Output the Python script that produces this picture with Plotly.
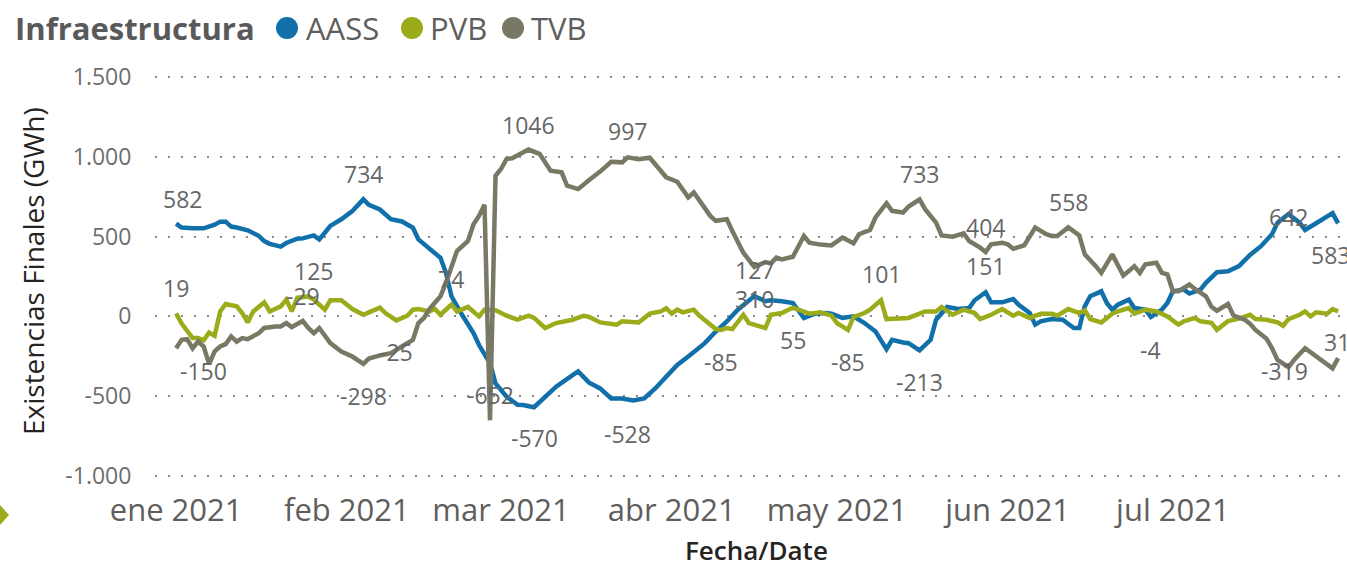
import pandas as pd
import plotly.graph_objects as go

# ---------------- data (day index: 0 = 1 Jan 2021) ----------------
INICIO = "2021-01-01"

aass_dias = [0, 1, 3, 5, 7, 8, 9, 10, 11, 13, 15, 16, 17, 19, 20, 22, 23, 25, 26, 28,
             30, 32, 34, 35, 37, 39, 41, 43, 44, 46, 48, 49, 50, 52, 54, 55, 57, 58, 60, 62,
             63, 65, 67, 69, 72, 73, 75, 77, 79, 81, 83, 85, 87, 89, 91, 93, 96, 98, 100, 102,
             104, 105, 107, 108, 110, 112, 114, 116, 118, 119, 121, 123, 125, 127, 129, 130, 132, 133, 135, 137,
             138, 140, 142, 144, 145, 147, 148, 150, 152, 153, 155, 156, 157, 159, 161, 163, 164, 165, 166, 168,
             169, 170, 171, 173, 174, 176, 177, 179, 180, 181, 183, 184, 186, 187, 189, 191, 193, 195, 197, 199,
             200, 202, 204, 205, 207, 209, 210, 211]
aass_gwh = [582, 557, 552, 552, 575, 594, 594, 563, 557, 540, 505, 472, 455, 437, 460, 487, 489, 508, 483, 567,
            609, 661, 734, 700, 670, 609, 595, 556, 483, 425, 367, 273, 126, 5, -105, -180, -294, -420, -504, -555,
            -556, -570, -504, -441, -368, -345, -416, -452, -515, -515, -528, -515, -452, -378, -305, -252, -168, -95, -32, 42,
            105, 127, 95, 101, 95, 84, -10, 17, 21, 17, -10, 0, -42, -95, -206, -147, -164, -168, -213, -147,
            -21, 59, 46, 52, 101, 151, 88, 88, 109, 73, 21, -52, -31, -17, -21, -73, -73, 63, 126, 157,
            84, 42, 73, 105, 52, 42, -4, 42, 84, 157, 168, 143, 168, 210, 277, 283, 315, 385, 440, 515,
            588, 642, 588, 542, 584, 626, 647, 583]

pvb_dias = [0, 1, 3, 4, 5, 6, 7, 8, 9, 11, 12, 13, 14, 16, 17, 19, 20, 21, 22, 24,
            25, 27, 28, 30, 32, 34, 35, 37, 38, 40, 42, 43, 44, 46, 47, 48, 50, 51, 53, 55,
            56, 58, 60, 62, 64, 65, 67, 69, 72, 74, 75, 77, 80, 81, 84, 86, 88, 89, 90, 91,
            92, 94, 95, 97, 98, 99, 100, 101, 103, 104, 107, 108, 110, 112, 114, 115, 117, 119, 120, 122,
            123, 125, 126, 128, 129, 131, 133, 135, 136, 138, 139, 141, 143, 145, 146, 148, 150, 152, 153, 155,
            157, 159, 160, 162, 164, 165, 166, 168, 170, 171, 173, 174, 176, 178, 179, 180, 182, 183, 185, 186,
            188, 189, 191, 193, 195, 196, 198, 200, 201, 202, 204, 205, 206, 207, 209, 210, 211]
pvb_gwh = [19, -45, -136, -136, -150, -101, -122, 31, 78, 63, 21, -38, 31, 88, 31, 63, 105, 31, 116, 125,
           105, 42, 101, 101, 46, 10, 25, 55, 21, -25, 4, 42, 46, 31, 46, 10, 74, 31, 59, 0,
           42, 38, 4, -21, 4, -10, -73, -42, -21, 4, -4, -38, -52, -31, -38, 17, 31, 50, 17, 42,
           25, 42, 4, -52, -80, -85, -73, -80, 10, -42, -73, 10, 21, 55, 27, 17, 25, 4, -42, -85,
           -4, 21, 42, 101, -17, -10, -10, 17, 31, 31, 59, 10, 42, 21, -17, 10, 46, 4, 21, -10,
           17, 17, 4, 46, 21, 38, -17, -38, 17, 31, 52, 17, 42, 31, 17, 0, -52, -31, -10, -31,
           -40, -84, -30, -14, 10, -17, -21, -38, -59, -17, 10, 31, 0, 25, 17, 46, 31]

tvb_dias = [0, 1, 2, 3, 4, 5, 6, 7, 8, 9, 10, 11, 12, 13, 15, 16, 18, 19, 20, 21,
            22, 23, 24, 25, 26, 27, 28, 30, 32, 34, 35, 37, 39, 41, 43, 44, 45, 46, 48, 49,
            51, 52, 53, 54, 55, 56, 57, 58, 59, 60, 61, 64, 66, 68, 70, 71, 73, 75, 77, 79,
            81, 82, 84, 86, 88, 89, 91, 93, 94, 95, 97, 98, 100, 101, 102, 103, 105, 107, 108, 109,
            110, 112, 114, 115, 117, 119, 121, 123, 124, 126, 127, 129, 130, 132, 133, 135, 136, 138, 139, 141,
            143, 144, 146, 147, 148, 150, 151, 152, 154, 155, 156, 158, 159, 160, 162, 164, 165, 167, 168, 170,
            172, 173, 174, 175, 176, 178, 179, 180, 181, 182, 184, 185, 187, 188, 189, 191, 192, 194, 195, 196,
            197, 198, 199, 200, 202, 203, 205, 207, 209, 210, 211]
tvb_gwh = [-200, -147, -143, -200, -158, -189, -300, -220, -189, -174, -126, -158, -136, -143, -105, -73, -63, -63, -42, -67,
           -48, -29, -73, -105, -73, -122, -168, -220, -252, -298, -265, -245, -231, -189, -147, -42, -10, 46, 126, 210,
           410, 441, 473, 578, 630, 700, -652, 882, 924, 987, 991, 1046, 1019, 914, 903, 819, 798, 855, 908, 970,
           966, 997, 985, 995, 907, 872, 844, 746, 777, 725, 630, 599, 609, 536, 473, 399, 310, 340, 332, 368,
           357, 374, 504, 462, 450, 445, 494, 458, 515, 542, 620, 710, 662, 651, 689, 733, 672, 588, 508, 500,
           521, 473, 431, 404, 452, 462, 452, 424, 445, 500, 557, 515, 504, 504, 558, 508, 389, 315, 273, 389,
           256, 284, 315, 273, 326, 336, 273, 263, 158, 158, 200, 172, 126, 60, 35, 77, 5, -20, -46, -85,
           -109, -140, -200, -273, -319, -273, -200, -252, -298, -326, -262]

# data labels: series, day, value shown
etiquetas = [
    ("AASS", 0, 582), ("AASS", 34, 734), ("PVB", 0, 19), ("PVB", 24, 125), ("TVB", 23, -29),
    ("PVB", 5, -150), ("TVB", 34, -298), ("PVB", 40, -25), ("PVB", 50, 74), ("TVB", 57, -652),
    ("TVB", 64, 1046), ("AASS", 65, -570), ("TVB", 82, 997), ("AASS", 82, -528), ("AASS", 105, 127),
    ("TVB", 105, 310), ("PVB", 99, -85), ("PVB", 112, 55), ("PVB", 122, -85), ("PVB", 128, 101),
    ("AASS", 135, -213), ("TVB", 135, 733), ("TVB", 147, 404), ("AASS", 147, 151), ("TVB", 162, 558),
    ("AASS", 177, -4), ("AASS", 202, 642), ("AASS", 211, 583), ("TVB", 202, -319), ("PVB", 211, 31),
]
# pixel offsets of each label relative to its point (dx, dy up)
desplaz = [
    (6, 25), (0, 25), (0, 25), (5, 25), (0, 25),
    (0, -31), (0, -32), (0, -32), (0, 26), (0, 25),
    (0, 25), (0, -31), (0, 26), (0, -33), (0, 26),
    (0, -32), (0, -32), (0, -32), (0, -32), (0, 26),
    (0, -32), (0, 25), (0, 25), (0, 26), (0, 25),
    (0, -33), (0, -3), (-8, -32), (-4, -4), (-1, -31),
]

meses = ["2021-01-01", "2021-02-01", "2021-03-01", "2021-04-01", "2021-05-01", "2021-06-01", "2021-07-01"]
meses_txt = ["ene 2021", "feb 2021", "mar 2021", "abr 2021", "may 2021", "jun 2021", "jul 2021"]
y_ticks = [-1000, -500, 0, 500, 1000, 1500]
y_ticks_txt = ["-1.000", "-500", "0", "500", "1.000", "1.500"]

colores = {"AASS": "#1170AA", "PVB": "#9BAB19", "TVB": "#787865"}

# ---------------- layout geometry ----------------
W, H = 1347, 565
L, R, T, B = 155, 5, 74, 86
PW, PH = W - L - R, H - T - B


def px(x):
    return (x - L) / PW


def py(y):
    return (T + PH - y) / PH


def fechas(dias):
    return pd.Timestamp(INICIO) + pd.to_timedelta(dias, unit="D")


series = {
    "AASS": (aass_dias, aass_gwh),
    "PVB": (pvb_dias, pvb_gwh),
    "TVB": (tvb_dias, tvb_gwh),
}

fig = go.Figure()
for nombre, (dias, vals) in series.items():
    fig.add_trace(go.Scatter(
        x=fechas(dias), y=vals, mode="lines", name=nombre,
        line=dict(color=colores[nombre], width=4.5),
        showlegend=False,
    ))

FONT = "Open Sans, Segoe UI, sans-serif"
anns = []
for (serie, dia, val), (dx, dy) in zip(etiquetas, desplaz):
    anns.append(dict(
        x=fechas([dia])[0], y=val, xref="x", yref="y", text=str(val),
        showarrow=False, xshift=dx, yshift=dy, xanchor="center", yanchor="middle",
        font=dict(family=FONT, size=23, color="#666666"),
    ))

# axis titles
anns.append(dict(x=px(33), y=py(271), xref="paper", yref="paper", text="Existencias Finales (GWh)",
                 textangle=-90, showarrow=False, xanchor="center", yanchor="middle",
                 font=dict(family=FONT, size=28, color="#252423")))
anns.append(dict(x=px(757), y=py(550), xref="paper", yref="paper", text="Fecha/Date",
                 showarrow=False, xanchor="center", yanchor="middle",
                 font=dict(family=FONT, size=26, color="#252423", weight=600)))

# legend (title + items)
anns.append(dict(x=px(13), y=py(28), xref="paper", yref="paper", text="<b>Infraestructura</b>",
                 showarrow=False, xanchor="left", yanchor="middle",
                 font=dict(family=FONT, size=31, color="#595959")))
leyenda = [("AASS", 287, 304), ("PVB", 412, 428), ("TVB", 513, 529)]
shapes = []
for nombre, cx, tx in leyenda:
    shapes.append(dict(type="circle", xref="paper", yref="paper",
                       x0=px(cx - 11), x1=px(cx + 11), y0=py(28 + 11), y1=py(28 - 11),
                       fillcolor=colores[nombre], line=dict(width=0)))
    anns.append(dict(x=px(tx), y=py(28), xref="paper", yref="paper", text=nombre,
                     showarrow=False, xanchor="left", yanchor="middle",
                     font=dict(family=FONT, size=31, color="#605E5C")))

# small expand marker at left edge
shapes.append(dict(type="path", xref="paper", yref="paper",
                   path=f"M {px(0)} {py(505)} L {px(9)} {py(515)} L {px(0)} {py(525)} Z",
                   fillcolor="#9BAB19", line=dict(width=0)))

fig.update_layout(
    width=W, height=H,
    margin=dict(l=L, r=R, t=T, b=B),
    paper_bgcolor="white", plot_bgcolor="white",
    font=dict(family=FONT, color="#666666"),
    annotations=anns, shapes=shapes,
    showlegend=False,
)
fig.update_xaxes(
    range=[pd.Timestamp("2020-12-28 04:00"), pd.Timestamp("2021-07-31 17:00")],
    tickvals=pd.to_datetime(meses), ticktext=meses_txt,
    showgrid=False, zeroline=False, showline=False,
    ticks="outside", ticklen=4, tickcolor="rgba(0,0,0,0)",
    tickfont=dict(family=FONT, size=31, color="#605E5C"),
)
fig.update_yaxes(
    range=[-1020, 1520], tickvals=y_ticks, ticktext=y_ticks_txt,
    showgrid=True, gridcolor="#8C8C8C", gridwidth=2, griddash="2px,11px",
    zeroline=False, showline=False,
    ticks="outside", ticklen=18, tickcolor="rgba(0,0,0,0)",
    tickfont=dict(family=FONT, size=23, color="#6E6E6E"),
)

fig.write_html("out.html", config={"displayModeBar": False},
               post_script="document.body.style.margin='0px';")
